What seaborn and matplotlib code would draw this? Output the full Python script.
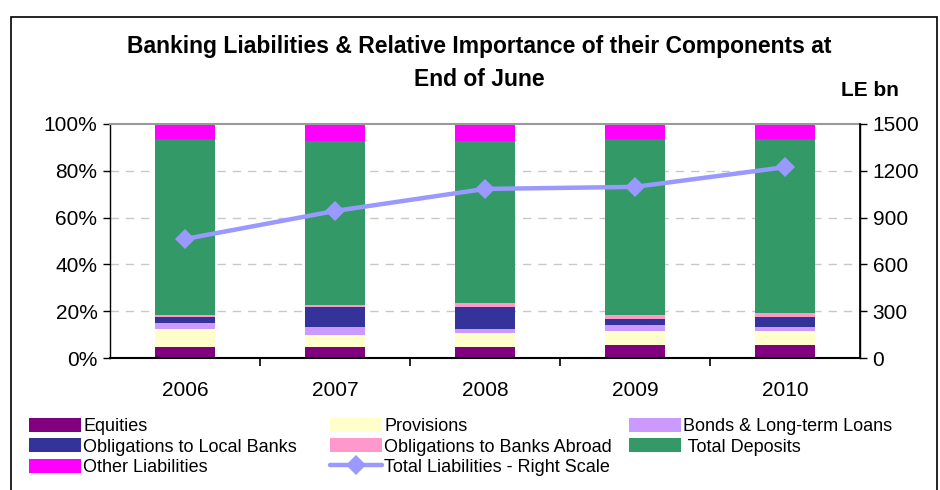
import numpy as np
import pandas as pd
import matplotlib
matplotlib.use("Agg")
import matplotlib.pyplot as plt
from matplotlib.patches import Patch, Rectangle
from matplotlib.lines import Line2D
import seaborn as sns

years = ["2006", "2007", "2008", "2009", "2010"]
equities = [4.8, 4.8, 4.8, 5.7, 5.7]
provisions = [7.7, 5.1, 6.0, 5.9, 5.9]
bonds = [2.5, 3.4, 1.7, 2.6, 1.7]
local_banks = [2.6, 8.6, 9.4, 2.6, 4.3]
banks_abroad = [0.9, 0.8, 1.7, 1.7, 1.7]
deposits = [75.0, 69.9, 69.0, 75.0, 74.2]
other = [6.5, 7.4, 7.4, 6.5, 6.5]
total_liabilities = [763, 942, 1083, 1096, 1222]

labels = ["Equities", "Provisions", "Bonds & Long-term Loans",
          "Obligations to Local Banks", "Obligations to Banks Abroad",
          " Total Deposits", "Other Liabilities"]
colors = ["#800080", "#FFFFCC", "#CC99FF", "#333399", "#FF99CC", "#339966", "#FF00FF"]
line_label = "Total Liabilities - Right Scale"
line_color = "#9999FF"

sns.set_theme(style="white")
plt.rcParams["font.family"] = ["Liberation Sans", "DejaVu Sans"]
plt.rcParams["text.color"] = "black"
plt.rcParams["xtick.color"] = "black"
plt.rcParams["ytick.color"] = "black"
plt.rcParams["axes.labelcolor"] = "black"

W, H = 940, 490
fig = plt.figure(figsize=(W / 100, H / 100), dpi=100)
ax = fig.add_axes([110 / W, 1 - 358.3 / H, 750 / W, (358.3 - 123.7) / H])

series = [equities, provisions, bonds, local_banks, banks_abroad, deposits, other]
cum = np.cumsum(np.array(series), axis=0)
df = pd.DataFrame({"year": years})
# draw from the top layer down so each cumulative bar covers the previous
for i in range(len(series) - 1, -1, -1):
    df["v"] = cum[i]
    sns.barplot(data=df, x="year", y="v", color=colors[i], width=0.4,
                saturation=1, linewidth=0, ax=ax, zorder=2)

ax.set_ylim(0, 100)
ax.set_xlim(-0.5, 4.5)
ax.set_yticks([0, 20, 40, 60, 80, 100])
ax.set_yticklabels([f"{v}%" for v in [0, 20, 40, 60, 80, 100]], fontsize=15)
ax.set_xlabel("")
ax.set_ylabel("")
for y in [20, 40, 60, 80]:
    ax.axhline(y, color="#C8C8C8", lw=1, ls=(0, (6, 5)), zorder=0)
ax.set_xticks(range(5))
ax.set_xticklabels(years, fontsize=15)
ax.set_xticks([0.5, 1.5, 2.5, 3.5], minor=True)
ax.tick_params(axis="x", which="major", length=0, pad=16)
ax.tick_params(axis="x", which="minor", length=6, width=1.2, color="black", direction="out", bottom=True)
ax.tick_params(axis="y", length=5, width=1, color="black", direction="out", left=True, pad=4)
for s in ["left", "bottom", "right"]:
    ax.spines[s].set_color("black")
    ax.spines[s].set_linewidth(1)
ax.spines["bottom"].set_linewidth(1.5)
ax.spines["top"].set_color("#999999")
ax.spines["top"].set_linewidth(1.5)

ax2 = ax.twinx()
sns.lineplot(x=np.arange(len(years)), y=total_liabilities, ax=ax2, color=line_color,
             linewidth=3.2, marker="D", markersize=10.5, markeredgewidth=0, zorder=5)
ax2.set_ylim(0, 1500)
ax2.set_yticks([0, 300, 600, 900, 1200, 1500])
ax2.set_yticklabels(["0", "300", "600", "900", "1200", "1500"], fontsize=15)
ax2.tick_params(axis="y", length=5, width=1, color="black", direction="out", right=True, pad=4)
ax2.set_xlim(-0.5, 4.5)
for s in ax2.spines.values():
    s.set_visible(False)
ax2.spines["right"].set_visible(True)
ax2.spines["right"].set_color("black")

fig.text(479 / W, 1 - 47 / H, "Banking Liabilities & Relative Importance of their Components at",
         ha="center", va="center", fontsize=16.5, fontweight="bold")
fig.text(479 / W, 1 - 80 / H, "End of June", ha="center", va="center", fontsize=16.5, fontweight="bold")
fig.text(870 / W, 1 - 91 / H, "LE bn", ha="center", va="center", fontsize=15, fontweight="bold")

patches = [Patch(facecolor=c, edgecolor="none", label=l) for c, l in zip(colors, labels)]
line_handle = Line2D([], [], color=line_color, lw=3.2, marker="D", markersize=10.5,
                     markeredgewidth=0, label=line_label)
cols = [
    ([patches[0], patches[3], patches[6]], 29),
    ([patches[1], patches[4], line_handle], 330),
    ([patches[2], patches[5]], 629),
]
for handles, x in cols:
    fig.legend(handles=handles, loc="upper left", bbox_to_anchor=(x / W, 1 - 418 / H),
               frameon=False, fontsize=13, handlelength=2.9, handleheight=0.8,
               handletextpad=0.1, labelspacing=0.18, borderpad=0, borderaxespad=0)

fig.add_artist(Rectangle((11 / W, -0.1), (937 - 11) / W, 1.1 - 17 / H,
                         transform=fig.transFigure, fill=False, edgecolor="black",
                         lw=1.2, clip_on=False))

fig.savefig("out.png", dpi=100)
